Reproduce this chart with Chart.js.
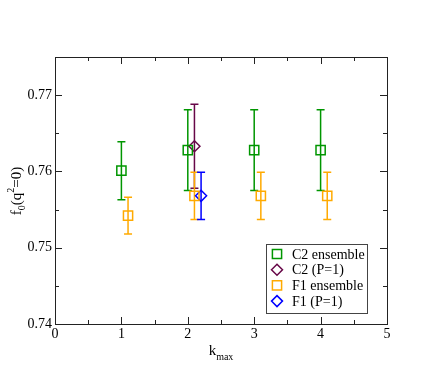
<!DOCTYPE html>
<html lang="en">
<head>
  <meta charset="UTF-8">
  <title>f0(q2=0) vs kmax</title>
  <script src="https://cdn.jsdelivr.net/npm/chart.js"></script>
  <style>
    html, body { margin: 0; padding: 0; background: #fff; }
  </style>
</head>
<body>
  <canvas id="plot" width="436" height="382"></canvas>

  <script>
    // data
    const seriesNames = ['C2 ensemble', 'C2 (P=1)', 'F1 ensemble', 'F1 (P=1)'];

    const c2EnsX = [1, 2, 3, 4];
    const c2EnsY = [0.7601, 0.7628, 0.7628, 0.7628];
    const c2EnsErr = [0.0038, 0.0053, 0.0053, 0.0053];

    const c2P1X = [2.1];
    const c2P1Y = [0.7633];
    const c2P1Err = [0.0055];

    const f1EnsX = [1.1, 2.1, 3.1, 4.1];
    const f1EnsY = [0.7542, 0.7568, 0.7568, 0.7568];
    const f1EnsErr = [0.0024, 0.0031, 0.0031, 0.0031];

    const f1P1X = [2.2];
    const f1P1Y = [0.7568];
    const f1P1Err = [0.0031];

    const xTickValues = [0, 1, 2, 3, 4, 5];
    const yTickValues = [0.74, 0.75, 0.76, 0.77];

    const serif = '"Liberation Serif", "DejaVu Serif", serif';

    function pts(xs, ys, errs) {
      return xs.map((x, i) => ({ x: x, y: ys[i], err: errs[i] }));
    }

    function ds(label, data, color, style, r) {
      return {
        label: label,
        data: data,
        borderColor: color,
        backgroundColor: 'rgba(0,0,0,0)',
        pointStyle: style,
        pointRadius: r,
        pointHoverRadius: r,
        pointBorderWidth: 1.5,
        showLine: false
      };
    }

    const green = 'rgb(0,150,0)';
    const maroon = 'rgb(103,7,72)';
    const orange = 'rgb(255,170,0)';
    const blue = 'rgb(0,0,255)';

    // error bars, inward ticks, frame, titles, legend
    const decor = {
      id: 'decor',
      beforeDatasetsDraw(chart) {
        const ctx = chart.ctx;
        const xs = chart.scales.x, ys = chart.scales.y;
        ctx.save();
        ctx.lineWidth = 1.5;
        chart.data.datasets.forEach(d => {
          ctx.strokeStyle = d.borderColor;
          d.data.forEach(p => {
            const px = xs.getPixelForValue(p.x);
            const top = ys.getPixelForValue(p.y + p.err);
            const bot = ys.getPixelForValue(p.y - p.err);
            ctx.beginPath();
            ctx.moveTo(px, top); ctx.lineTo(px, bot);
            ctx.moveTo(px - 4, top); ctx.lineTo(px + 4, top);
            ctx.moveTo(px - 4, bot); ctx.lineTo(px + 4, bot);
            ctx.stroke();
          });
        });
        ctx.restore();
      },
      afterDraw(chart) {
        const ctx = chart.ctx;
        const a = chart.chartArea;
        const xs = chart.scales.x, ys = chart.scales.y;
        ctx.save();
        ctx.strokeStyle = '#222';
        ctx.lineWidth = 1;
        ctx.strokeRect(Math.round(a.left) + 0.5, Math.round(a.top) + 0.5,
                       Math.round(a.right - a.left), Math.round(a.bottom - a.top));

        // tick marks pointing inward
        ctx.beginPath();
        for (let v = 0; v <= 5.0001; v += 0.5) {
          const len = Math.abs(v - Math.round(v)) < 1e-6 ? 7 : 4;
          const px = Math.round(xs.getPixelForValue(v)) + 0.5;
          ctx.moveTo(px, a.bottom); ctx.lineTo(px, a.bottom - len);
          ctx.moveTo(px, a.top); ctx.lineTo(px, a.top + len);
        }
        for (let i = 0; i <= 7; i++) {
          const v = 0.74 + i * 0.005;
          const len = i % 2 === 0 ? 7 : 4;
          const py = Math.round(ys.getPixelForValue(v)) + 0.5;
          ctx.moveTo(a.left, py); ctx.lineTo(a.left + len, py);
          ctx.moveTo(a.right, py); ctx.lineTo(a.right - len, py);
        }
        ctx.stroke();

        // axis titles with sub/superscripts
        function drawRich(parts, x, y) {
          let total = 0;
          parts.forEach(p => { ctx.font = p[1] + 'px ' + serif; total += ctx.measureText(p[0]).width; });
          let cx = x - total / 2;
          parts.forEach(p => {
            ctx.font = p[1] + 'px ' + serif;
            ctx.fillText(p[0], cx, y + p[2]);
            cx += ctx.measureText(p[0]).width;
          });
        }
        ctx.fillStyle = '#000';
        ctx.textBaseline = 'alphabetic';
        ctx.textAlign = 'left';
        drawRich([['k', 15, 0], ['max', 10, 5]], (a.left + a.right) / 2, 355);

        ctx.save();
        ctx.translate(21, 191);
        ctx.rotate(-Math.PI / 2);
        drawRich([['f', 15, 0], ['0', 10, 4], ['(q', 15, 0], ['2', 10, -7], ['=0)', 15, 0]], 0, 0);
        ctx.restore();

        // legend box
        const lx = 266, ly = 244, lw = 101, lh = 69;
        ctx.fillStyle = '#fff';
        ctx.fillRect(lx, ly, lw, lh);
        ctx.strokeStyle = '#444';
        ctx.lineWidth = 1;
        ctx.strokeRect(lx + 0.5, ly + 0.5, lw, lh);
        chart.data.datasets.forEach((d, i) => {
          const cy = 254 + i * 15.7;
          ctx.strokeStyle = d.borderColor;
          ctx.fillStyle = 'rgba(0,0,0,0)';
          ctx.lineWidth = 1.5;
          Chart.helpers.drawPoint(ctx, { pointStyle: d.pointStyle, radius: d.pointRadius, borderWidth: 1.5 }, 277, cy);
          ctx.fillStyle = '#000';
          ctx.font = '14px ' + serif;
          ctx.textBaseline = 'middle';
          ctx.textAlign = 'left';
          ctx.fillText(d.label, 292, cy + 1);
        });
        ctx.restore();
      }
    };

    new Chart(document.getElementById('plot'), {
      type: 'scatter',
      data: {
        datasets: [
          ds(seriesNames[0], pts(c2EnsX, c2EnsY, c2EnsErr), green, 'rect', 6.5),
          ds(seriesNames[1], pts(c2P1X, c2P1Y, c2P1Err), maroon, 'rectRot', 5.5),
          ds(seriesNames[2], pts(f1EnsX, f1EnsY, f1EnsErr), orange, 'rect', 6.5),
          ds(seriesNames[3], pts(f1P1X, f1P1Y, f1P1Err), blue, 'rectRot', 5.5)
        ]
      },
      options: {
        responsive: false,
        animation: false,
        layout: { padding: { left: 0, top: 57, right: 49, bottom: 0 } },
        plugins: { legend: { display: false }, tooltip: { enabled: false } },
        scales: {
          x: {
            type: 'linear',
            min: 0, max: 5,
            afterBuildTicks: s => { s.ticks = xTickValues.map(v => ({ value: v })); },
            afterFit: s => { s.height = 382 - 324; },
            grid: { display: false, drawTicks: false },
            border: { display: false },
            ticks: {
              padding: 2,
              color: '#000',
              font: { family: serif, size: 14 },
              maxRotation: 0,
              callback: v => String(v)
            }
          },
          y: {
            type: 'linear',
            min: 0.74, max: 0.775,
            afterBuildTicks: s => { s.ticks = yTickValues.map(v => ({ value: v })); },
            afterFit: s => { s.width = 55; },
            grid: { display: false, drawTicks: false },
            border: { display: false },
            ticks: {
              padding: 3,
              color: '#000',
              font: { family: serif, size: 14 },
              callback: v => v.toFixed(2)
            }
          }
        }
      },
      plugins: [decor]
    });
  </script>
</body>
</html>
